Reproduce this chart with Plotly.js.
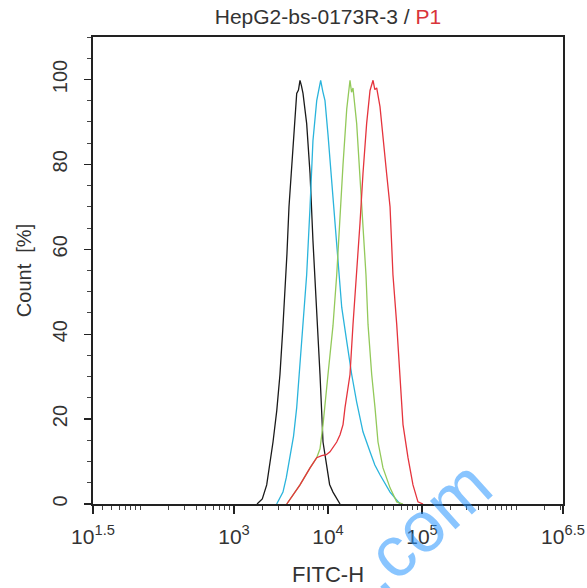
<!DOCTYPE html>
<html><head><meta charset="utf-8">
<script src="https://cdn.plot.ly/plotly-3.0.1.min.js"></script>
<style>html,body{margin:0;padding:0;background:#fff;}#chart{width:587px;height:588px;}</style>
</head><body><div id="chart"></div>
<script>
// FITC-H values (linear units) and Count [%]
const blackX = [1758, 2000, 2228, 2420, 2600, 2850, 3083, 3300, 3490, 3660, 3846, 4050, 4246, 4450, 4645, 4850, 5035, 5220, 5420, 5930, 6442, 6918, 7586, 8222, 8851, 9683, 10400, 11300, 13430];
const blackY = [0, 1.2, 4.5, 9.5, 14.6, 22, 30.5, 41, 50, 59, 70, 78, 85.6, 92, 96.7, 97.5, 99.8, 98.5, 96.7, 89.6, 77.8, 62, 46.3, 30.5, 14.6, 8.5, 4.6, 2.8, 0];

const cyanX = [2844, 3319, 3600, 3945, 4300, 4645, 5248, 5600, 5930, 6442, 6918, 7586, 7950, 8356, 8800, 9290, 10000, 10940, 12380, 14000, 15820, 17870, 20190, 23550, 27990, 31500, 35730, 45710, 58340];
const cyanY = [0, 2.8, 6.2, 10.9, 16, 22.7, 38.3, 46, 54, 70, 85.6, 95, 97.6, 99.8, 97.2, 95, 87, 76, 60, 46.3, 38.3, 30.5, 24, 17, 12.3, 9.2, 6.9, 2.8, 0];

const greenX = [3640, 5035, 6442, 7586, 8222, 8851, 10000, 11300, 12380, 13430, 14450, 15820, 16450, 17140, 17800, 18450, 20190, 21880, 23550, 25350, 26650, 29170, 31620, 34040, 38460, 45710, 53830, 62810];
const greenY = [0, 4.5, 8.5, 10.9, 13, 18.7, 30.5, 42, 54, 68, 80, 93, 96.5, 99.8, 97, 98, 89.6, 77.8, 66, 54, 42.3, 30.5, 22.7, 14.6, 8.5, 3.8, 0.5, 0];

const redX = [3640, 5035, 6442, 7586, 8570, 9600, 10500, 12380, 13430, 14450, 15170, 17140, 18450, 20190, 21880, 23550, 25760, 27990, 29000, 30130, 31500, 32960, 35730, 38460, 42070, 45710, 49090, 53830, 58340, 62810, 70960, 80170, 90570, 102500];
const redY = [0, 4.5, 8.5, 10.9, 11.4, 11.6, 12.3, 14.6, 16.3, 18.7, 22.7, 30.5, 42.3, 54, 66, 77.8, 89.6, 97.4, 98.6, 99.8, 97.6, 98, 93.6, 85.6, 77.8, 70, 54, 42.3, 30.5, 18.7, 10.9, 4.5, 0.5, 0];

const xTickVals = [Math.pow(10, 1.5), 1000, 10000, 100000, Math.pow(10, 6.5)];
const xTickText = ['10<sup>1.5</sup>', '10<sup>3</sup>', '10<sup>4</sup>', '10<sup>5</sup>', '10<sup>6.5</sup>'];
const xMinorVals = [40, 50, 60, 70, 80, 90, 100, 200, 300, 400, 500, 600, 700, 800, 900,
  2000, 3000, 4000, 5000, 6000, 7000, 8000, 9000,
  20000, 30000, 40000, 50000, 60000, 70000, 80000, 90000,
  200000, 300000, 400000, 500000, 600000, 700000, 800000, 900000, 1000000, 2000000, 3000000];

const FONT = 'Liberation Sans, Arial, sans-serif';
function tr(x, y, color) {
  return {x: x, y: y, type: 'scatter', mode: 'lines', line: {color: color, width: 1.3}, hoverinfo: 'skip', showlegend: false};
}
const data = [
  tr(blackX, blackY, '#1a1a1a'),
  tr(cyanX, cyanY, '#2ab4dc'),
  tr(greenX, greenY, '#93c95a'),
  tr(redX, redY, '#e5343d')
];
const layout = {
  width: 587, height: 588,
  margin: {l: 93, r: 24, t: 37, b: 84},
  paper_bgcolor: '#fff', plot_bgcolor: '#fff',
  font: {family: FONT, color: '#333'},
  title: {text: 'HepG2-bs-0173R-3 / <span style="color:#d9343a">P1</span>', font: {size: 21, color: '#333', family: FONT},
          x: 0.5, xref: 'paper', xanchor: 'center', y: 0.971, yref: 'container', yanchor: 'middle'},
  xaxis: {type: 'log', range: [1.5, 6.5], tickmode: 'array', tickvals: xTickVals, ticktext: xTickText,
          ticks: 'outside', ticklen: 8, tickwidth: 1.3, tickcolor: '#222', ticklabelstandoff: 5,
          minor: {tickmode: 'array', tickvals: xMinorVals, ticks: 'outside', ticklen: 4, tickwidth: 1, tickcolor: '#444'},
          showline: true, linecolor: '#222', linewidth: 1.6, mirror: true, showgrid: false, zeroline: false,
          tickfont: {size: 21, color: '#333'},
          title: {text: 'FITC-H', font: {size: 22, color: '#333'}, standoff: 20}},
  yaxis: {range: [0, 110], tickmode: 'linear', tick0: 0, dtick: 20, tickangle: -90,
          ticks: 'outside', ticklen: 7, tickwidth: 1.3, tickcolor: '#222', ticklabelstandoff: 9,
          minor: {dtick: 5, tick0: 0, ticks: 'outside', ticklen: 4, tickwidth: 1, tickcolor: '#444'},
          showline: true, linecolor: '#222', linewidth: 1.6, mirror: true, showgrid: false, zeroline: false,
          tickfont: {size: 20, color: '#333'},
          title: {text: 'Count  [%]', font: {size: 20, color: '#333'}, standoff: 12}},
  annotations: [{text: '.com', xref: 'paper', yref: 'paper', x: 0.70, y: -0.048, xanchor: 'center', yanchor: 'middle', showarrow: false,
                 textangle: -42, font: {size: 72, color: 'rgba(40,150,255,0.55)', family: FONT}}]
};
Plotly.newPlot('chart', data, layout, {staticPlot: true, displayModeBar: false});
</script></body></html>
